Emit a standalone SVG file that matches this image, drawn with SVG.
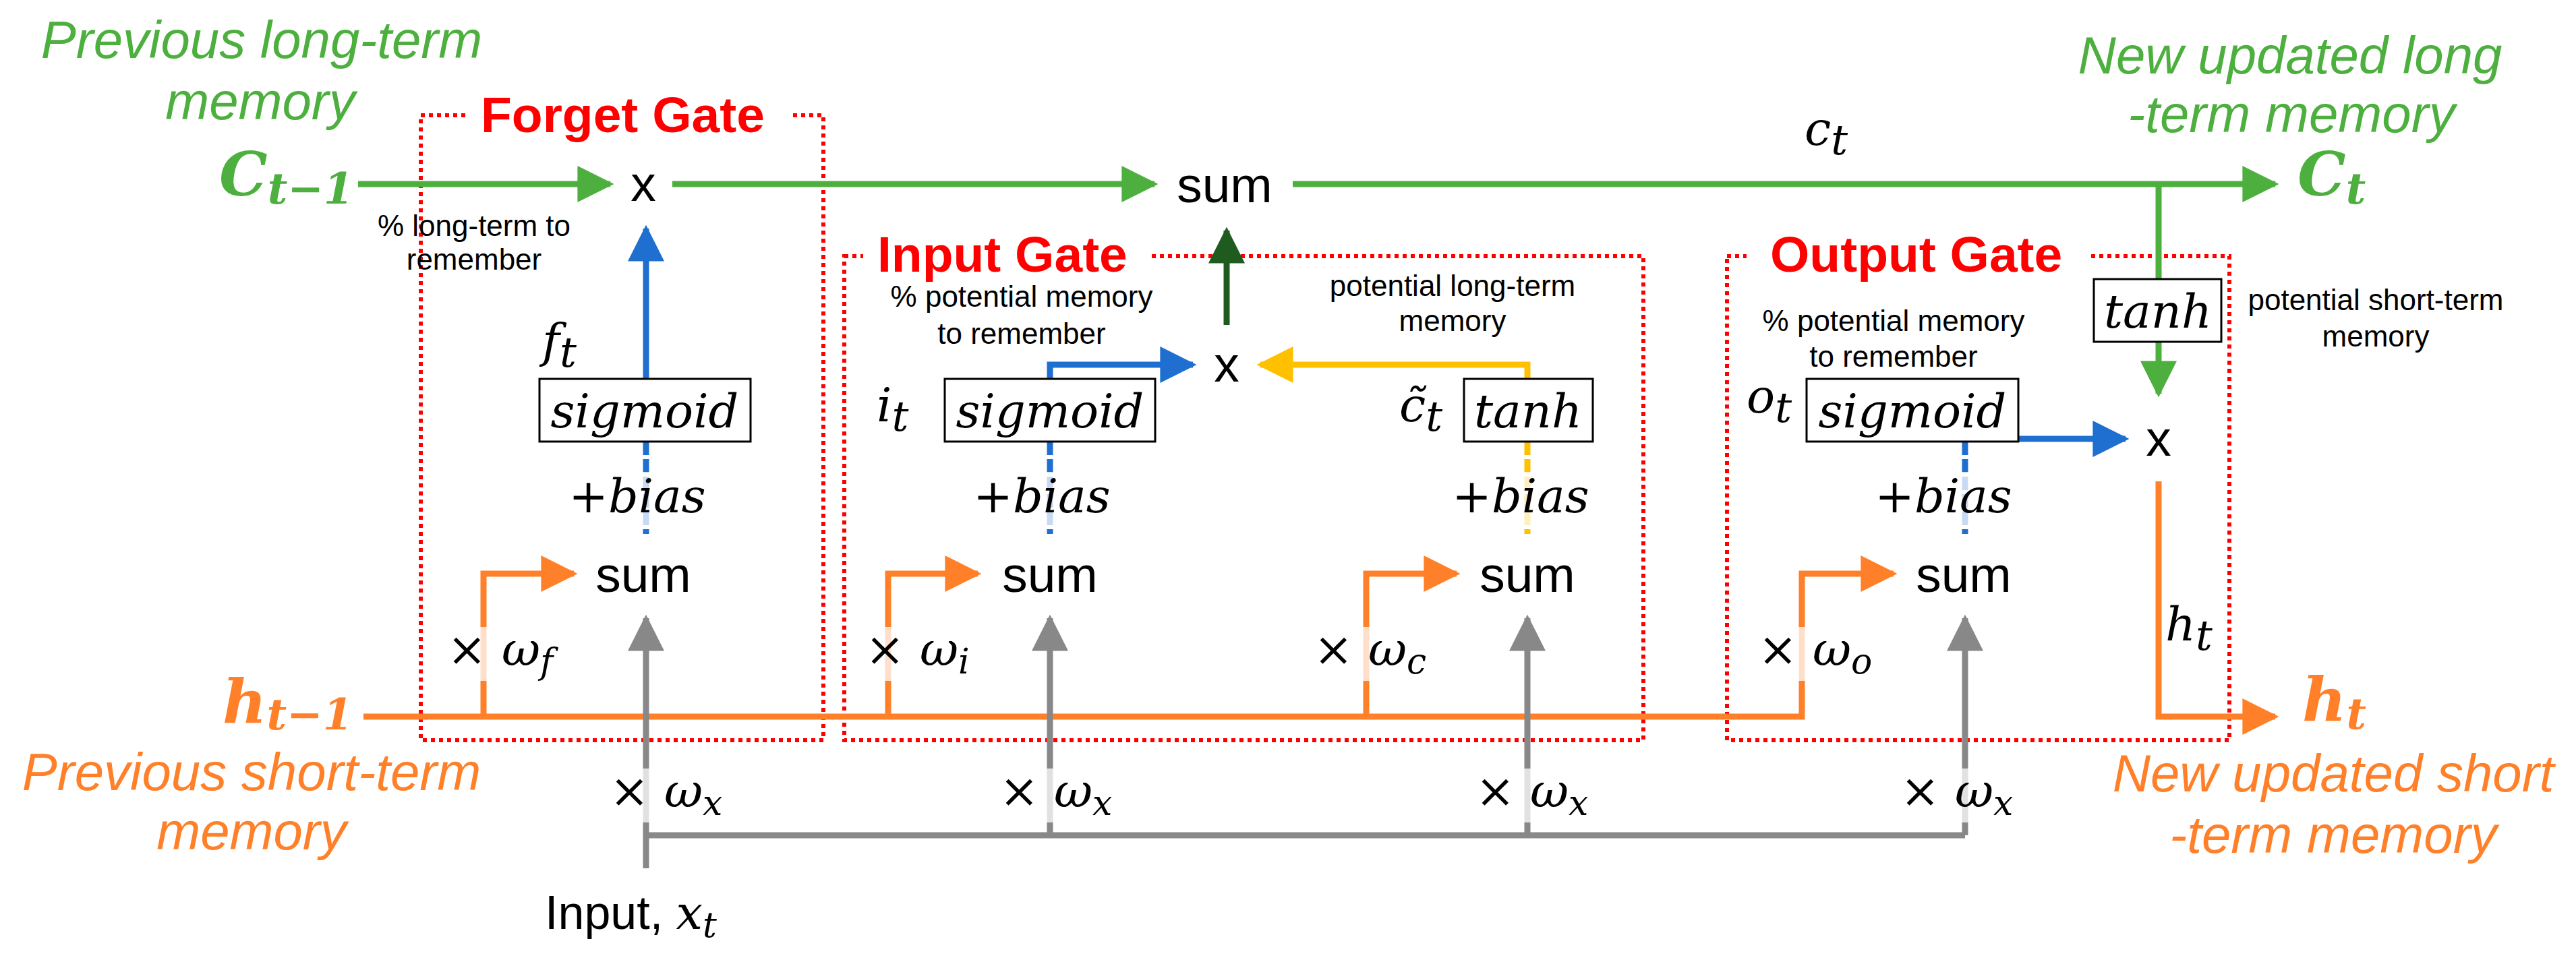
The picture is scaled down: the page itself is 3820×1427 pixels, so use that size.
<svg xmlns="http://www.w3.org/2000/svg" width="3820" height="1427" viewBox="0 0 3820 1427">
<defs>
<style>
.g{stroke:#4CAF3E;stroke-width:9;fill:none}
.o{stroke:#FF8028;stroke-width:9;fill:none}
.b{stroke:#1E6FD0;stroke-width:9;fill:none}
.y{stroke:#FFC000;stroke-width:9;fill:none}
.k{stroke:#888;stroke-width:9;fill:none}
.dg{stroke:#1F5B1F;stroke-width:9;fill:none}
.gate{stroke:#FF0000;stroke-width:6;stroke-dasharray:6 6;fill:none}
.title{font:bold 75px "Liberation Sans",Arial,sans-serif;fill:#FF0000}
.s{font:75px "Liberation Sans",Arial,sans-serif;fill:#000;text-anchor:middle}
.n{font:44px "Liberation Sans",Arial,sans-serif;fill:#000;text-anchor:middle}
.m{font:italic 70px "DejaVu Serif","Liberation Serif",serif;fill:#000}
.sub{font-size:52px}
.box{fill:#fff;stroke:#000;stroke-width:3}
.gi{font:italic 78px "Liberation Sans",Arial,sans-serif;fill:#4CAF3E;text-anchor:middle}
.oi{font:italic 78px "Liberation Sans",Arial,sans-serif;fill:#FF8028;text-anchor:middle}
.big{font:bold italic 90px "DejaVu Serif","Liberation Serif",serif}
.lab{fill:#fff;opacity:.75}
</style>
<marker id="ag" viewBox="0 0 10 10" refX="9" refY="5" markerWidth="6" markerHeight="6" markerUnits="strokeWidth" orient="auto"><path d="M0,0L10,5L0,10z" fill="#4CAF3E"/></marker>
<marker id="ao" viewBox="0 0 10 10" refX="9" refY="5" markerWidth="6" markerHeight="6" markerUnits="strokeWidth" orient="auto"><path d="M0,0L10,5L0,10z" fill="#FF8028"/></marker>
<marker id="ab" viewBox="0 0 10 10" refX="9" refY="5" markerWidth="6" markerHeight="6" markerUnits="strokeWidth" orient="auto"><path d="M0,0L10,5L0,10z" fill="#1E6FD0"/></marker>
<marker id="ay" viewBox="0 0 10 10" refX="9" refY="5" markerWidth="6" markerHeight="6" markerUnits="strokeWidth" orient="auto"><path d="M0,0L10,5L0,10z" fill="#FFC000"/></marker>
<marker id="ak" viewBox="0 0 10 10" refX="9" refY="5" markerWidth="6" markerHeight="6" markerUnits="strokeWidth" orient="auto"><path d="M0,0L10,5L0,10z" fill="#888"/></marker>
<marker id="adg" viewBox="0 0 10 10" refX="9" refY="5" markerWidth="6" markerHeight="6" markerUnits="strokeWidth" orient="auto"><path d="M0,0L10,5L0,10z" fill="#1F5B1F"/></marker>
</defs>
<rect width="3820" height="1427" fill="#fff"/>

<g id="gates">
<rect class="gate" x="624" y="171" width="597" height="927"/>
<rect x="690" y="120" width="480" height="90" fill="#fff"/>
<text class="title" x="713" y="196">Forget Gate</text>
<rect class="gate" x="1252" y="380" width="1185" height="718"/>
<rect x="1280" y="330" width="425" height="80" fill="#fff"/>
<text class="title" x="1301" y="403">Input Gate</text>
<rect class="gate" x="2561" y="380" width="745" height="718"/>
<rect x="2590" y="330" width="510" height="80" fill="#fff"/>
<text class="title" x="2625" y="403">Output Gate</text>
</g>

<g id="connectors">
<path class="g" d="M531,273H905" marker-end="url(#ag)"/>
<path class="g" d="M997,273H1712" marker-end="url(#ag)"/>
<path class="g" d="M1917,273H3374" marker-end="url(#ag)"/>
<path class="g" d="M3201,273V414"/>
<path class="g" d="M3201,507V584" marker-end="url(#ag)"/>
<path class="o" d="M539,1063H2672V851H2808" marker-end="url(#ao)"/>
<path class="o" d="M717,1063V851H851" marker-end="url(#ao)"/>
<path class="o" d="M1317,1063V851H1450" marker-end="url(#ao)"/>
<path class="o" d="M2026,1063V851H2160" marker-end="url(#ao)"/>
<path class="o" d="M3201,714V1063H3374" marker-end="url(#ao)"/>
<path class="k" d="M958,1288V917" marker-end="url(#ak)"/>
<path class="k" d="M1557,1239V917" marker-end="url(#ak)"/>
<path class="k" d="M2265,1239V917" marker-end="url(#ak)"/>
<path class="k" d="M2914,1239V917" marker-end="url(#ak)"/>
<path class="k" d="M958,1239H2914"/>
<path class="b" d="M958,564V339" marker-end="url(#ab)"/>
<path class="b" d="M958,655V792" stroke-dasharray="20 6"/>
<path class="b" d="M1557,562V541H1769" marker-end="url(#ab)"/>
<path class="b" d="M1557,655V792" stroke-dasharray="20 6"/>
<path class="y" d="M2265,562V541H1869" marker-end="url(#ay)"/>
<path class="y" d="M2265,655V792" stroke-dasharray="20 6"/>
<path class="b" d="M2993,651H3152" marker-end="url(#ab)"/>
<path class="b" d="M2914,655V792" stroke-dasharray="20 6"/>
<path class="dg" d="M1819,482V342" marker-end="url(#adg)"/>
</g>

<g id="ops">
<text class="s" x="954" y="298" font-size="60">x</text>
<text class="s" x="1816" y="300">sum</text>
<text class="s" x="1819" y="566" font-size="60">x</text>
<text class="s" x="3201" y="676" font-size="60">x</text>
<text class="s" x="954" y="878">sum</text>
<text class="s" x="1557" y="878">sum</text>
<text class="s" x="2265" y="878">sum</text>
<text class="s" x="2912" y="878">sum</text>
</g>

<g id="forget">
<text class="m" x="804" y="530" font-size="88">f<tspan dy="14" font-size="62">t</tspan></text>
<rect class="box" x="800" y="562" width="313" height="93"/>
<text class="m" x="956" y="634" text-anchor="middle" font-size="68">sigmoid</text>
<rect class="lab" x="845" y="700" width="220" height="80"/>
<text class="m" x="945" y="760" text-anchor="middle" font-size="64">+bias</text>
<text class="n" x="703" y="350">% long-term to</text>
<text class="n" x="703" y="400">remember</text>
</g>

<g id="input">
<text class="m" x="1300" y="625" font-size="88">i<tspan dy="14" font-size="62">t</tspan></text>
<rect class="box" x="1401" y="562" width="312" height="93"/>
<text class="m" x="1557" y="634" text-anchor="middle" font-size="68">sigmoid</text>
<rect class="lab" x="1447" y="700" width="220" height="80"/>
<text class="m" x="1545" y="760" text-anchor="middle" font-size="64">+bias</text>
<text class="m" x="2075" y="625" font-size="88">c̃<tspan dy="14" font-size="62">t</tspan></text>
<rect class="box" x="2171" y="562" width="191" height="93"/>
<text class="m" x="2266" y="634" text-anchor="middle" font-size="68">tanh</text>
<rect class="lab" x="2155" y="700" width="220" height="80"/>
<text class="m" x="2255" y="760" text-anchor="middle" font-size="64">+bias</text>
<text class="n" x="1515" y="455">% potential memory</text>
<text class="n" x="1515" y="510">to remember</text>
<text class="n" x="2154" y="439">potential long-term</text>
<text class="n" x="2154" y="491">memory</text>
</g>

<g id="output">
<text class="m" x="2590" y="612" font-size="88">o<tspan dy="14" font-size="62">t</tspan></text>
<rect class="box" x="2679" y="562" width="314" height="93"/>
<text class="m" x="2836" y="634" text-anchor="middle" font-size="68">sigmoid</text>
<rect class="lab" x="2780" y="700" width="220" height="80"/>
<text class="m" x="2882" y="760" text-anchor="middle" font-size="64">+bias</text>
<rect class="box" x="3105" y="414" width="189" height="93"/>
<text class="m" x="3200" y="486" text-anchor="middle" font-size="68">tanh</text>
<text class="n" x="2808" y="491">% potential memory</text>
<text class="n" x="2808" y="544">to remember</text>
<text class="n" x="3523" y="460">potential short-term</text>
<text class="n" x="3523" y="514">memory</text>
<text class="m" x="3211" y="950" font-size="88">h<tspan dy="14" font-size="62">t</tspan></text>
<text class="m" x="2676" y="215" font-size="88">c<tspan dy="14" font-size="62">t</tspan></text>
</g>

<g id="weights">
<rect class="lab" x="655" y="930" width="150" height="80"/>
<text class="m" x="663" y="987" font-size="64">× ω<tspan class="sub" dy="12">f</tspan></text>
<rect class="lab" x="1275" y="930" width="150" height="80"/>
<text class="m" x="1283" y="987" font-size="64">× ω<tspan class="sub" dy="12">i</tspan></text>
<rect class="lab" x="1940" y="930" width="150" height="80"/>
<text class="m" x="1948" y="987" font-size="64">× ω<tspan class="sub" dy="12">c</tspan></text>
<rect class="lab" x="2600" y="930" width="150" height="80"/>
<text class="m" x="2607" y="987" font-size="64">× ω<tspan class="sub" dy="12">o</tspan></text>
<rect class="lab" x="896" y="1140" width="160" height="80"/>
<text class="m" x="904" y="1197" font-size="64">× ω<tspan class="sub" dy="12">x</tspan></text>
<rect class="lab" x="1474" y="1140" width="160" height="80"/>
<text class="m" x="1482" y="1197" font-size="64">× ω<tspan class="sub" dy="12">x</tspan></text>
<rect class="lab" x="2180" y="1140" width="160" height="80"/>
<text class="m" x="2188" y="1197" font-size="64">× ω<tspan class="sub" dy="12">x</tspan></text>
<rect class="lab" x="2810" y="1140" width="160" height="80"/>
<text class="m" x="2818" y="1197" font-size="64">× ω<tspan class="sub" dy="12">x</tspan></text>
</g>

<g id="io">
<text class="gi" x="388" y="86">Previous long-term</text>
<text class="gi" x="386" y="177">memory</text>
<text class="big" x="325" y="290" fill="#4CAF3E">C<tspan font-size="64" dy="12">t−1</tspan></text>
<text class="oi" x="373" y="1172">Previous short-term</text>
<text class="oi" x="373" y="1260">memory</text>
<text class="big" x="330" y="1072" fill="#FF8028">h<tspan font-size="64" dy="10">t−1</tspan></text>
<text x="808" y="1378" font-family="Liberation Sans,Arial,sans-serif" font-size="70">Input, <tspan class="m" font-size="70">x<tspan class="sub" dy="12">t</tspan></tspan></text>
<text class="gi" x="3396" y="109">New updated long</text>
<text class="gi" x="3398" y="196">-term memory</text>
<text class="big" x="3407" y="290" fill="#4CAF3E">C<tspan font-size="64" dy="12">t</tspan></text>
<text class="oi" x="3460" y="1174">New updated short</text>
<text class="oi" x="3460" y="1265">-term memory</text>
<text class="big" x="3414" y="1069" fill="#FF8028">h<tspan font-size="64" dy="12">t</tspan></text>
</g>
</svg>
